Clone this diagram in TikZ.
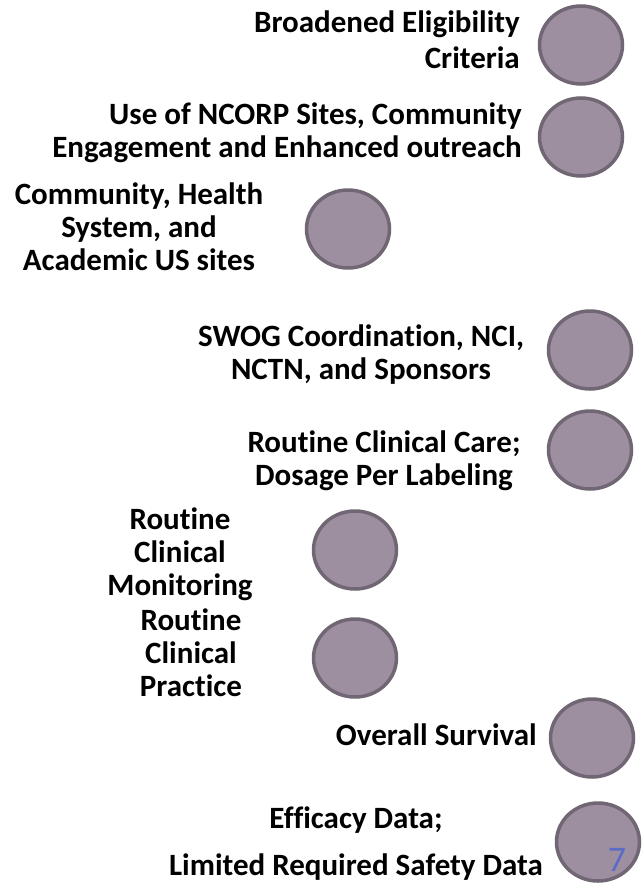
\documentclass[tikz,border=0pt]{standalone}
\usepackage{fontspec}
\setmainfont{Carlito}[Ligatures={NoCommon}]
\usetikzlibrary{shapes.geometric}
\definecolor{dotfill}{HTML}{9D8FA0}
\definecolor{dotline}{HTML}{716673}
\definecolor{pagenum}{HTML}{5B6BC8}
\begin{document}
\begin{tikzpicture}[x=1pt, y=-1pt,
		dot/.style={ellipse, draw=dotline, fill=dotfill, line width=3.5pt, inner sep=0, minimum width=83pt, minimum height=78pt},
		lbl/.style={font=\bfseries\fontsize{31}{33}\selectfont, inner sep=0}]
		\useasboundingbox (0,0) rectangle (644,886);
		% circles
		\node[dot] at (581,45) (eligdot) {};
		\node[dot] at (581,137) (ncorpdot) {};
		\node[dot] at (348,229) (sitesdot) {};
		\node[dot] at (590,350) (swogdot) {};
		\node[dot] at (590,450) (caredot) {};
		\node[dot] at (355,550) (monidot) {};
		\node[dot] at (355,658) (practdot) {};
		\node[dot] at (592,738) (survdot) {};
		\node[dot] at (598,842) (effdot) {};
		% labels (base = last line)
		\node[lbl, align=right, anchor=base east] at (520,68) (elig) {Broadened Eligibility\\[3pt]Criteria};
		\node[lbl, align=right, anchor=base east] at (522,157) (ncorp) {Use of NCORP Sites, Community\\Engagement and Enhanced outreach};
		\node[lbl, align=center, anchor=base] at (139,270) (sites) {Community, Health\\System, and\\Academic US sites};
		\node[lbl, align=center, anchor=base] at (361,379) (swog) {SWOG Coordination, NCI,\\NCTN, and Sponsors};
		\node[lbl, align=center, anchor=base] at (384,485) (care) {Routine Clinical Care;\\Dosage Per Labeling};
		\node[lbl, align=center, anchor=base] at (180,595) (moni) {Routine\\Clinical\\Monitoring};
		\node[lbl, align=center, anchor=base] at (191,696) (pract) {Routine\\Clinical\\Practice};
		\node[lbl, anchor=base east] at (537,745) (surv) {Overall Survival};
		\node[lbl, align=center, anchor=base] at (356,875) (eff) {Efficacy Data;\\[14pt]Limited Required Safety Data};
		\node[text=pagenum, font=\fontsize{36}{36}\selectfont, inner sep=0] at (617,860) (page) {7};
	\end{tikzpicture}
\end{document}
